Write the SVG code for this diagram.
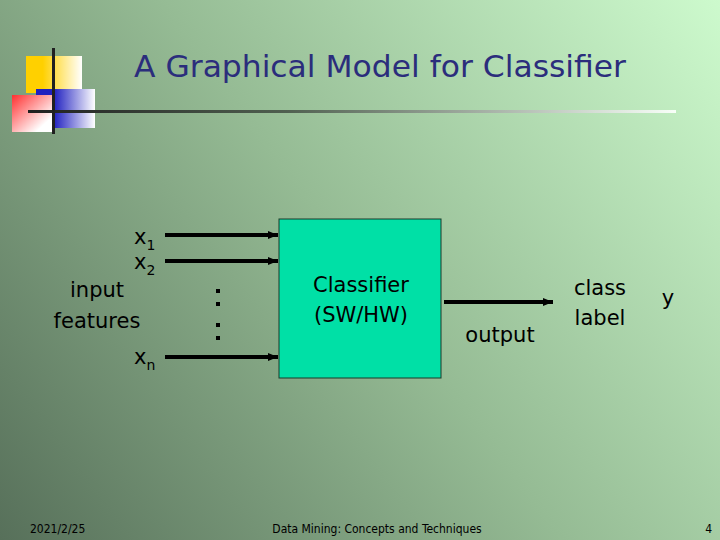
<svg xmlns="http://www.w3.org/2000/svg" width="720" height="540" viewBox="0 0 720 540">
<defs>
<linearGradient id="bg" x1="0" y1="540" x2="720" y2="0" gradientUnits="userSpaceOnUse">
<stop offset="0" stop-color="#57705a"/>
<stop offset="0.5" stop-color="#95bb94"/>
<stop offset="1" stop-color="#cdfacd"/>
</linearGradient>
<linearGradient id="yel" x1="0" y1="0" x2="1" y2="0"><stop offset="0.3" stop-color="#ffd000"/><stop offset="1" stop-color="#ffffff"/></linearGradient>
<linearGradient id="blu" x1="0" y1="0" x2="1" y2="0"><stop offset="0.3" stop-color="#2020c0"/><stop offset="1" stop-color="#ffffff"/></linearGradient>
<linearGradient id="red" x1="0" y1="0" x2="1" y2="1"><stop offset="0" stop-color="#ff3030"/><stop offset="0.8" stop-color="#ffffff"/></linearGradient>
<linearGradient id="hl" x1="0" y1="0" x2="1" y2="0"><stop offset="0" stop-color="#202020"/><stop offset="0.4" stop-color="#506050"/><stop offset="1" stop-color="#f8fff8"/></linearGradient>
<marker id="ah" markerWidth="10" markerHeight="8" refX="10" refY="4" orient="auto" markerUnits="userSpaceOnUse"><path d="M0,0 L10,4 L0,8 z" fill="#000"/></marker>
<style>
.t{font-family:"DejaVu Sans","Liberation Sans",sans-serif;fill:#000;}
.lab{font-size:21px;}
.sub{font-size:14px;}
.ft{font-family:"DejaVu Sans Condensed","DejaVu Sans",sans-serif;font-size:12px;fill:#000;}
.arr{stroke:#000;stroke-width:4;fill:none;marker-end:url(#ah);}
</style>
</defs>
<rect width="720" height="540" fill="url(#bg)"/>
<g id="decor">
<rect x="26" y="56" width="56" height="37" fill="url(#yel)"/>
<rect x="36" y="89" width="59" height="39" fill="url(#blu)"/>
<rect x="12" y="95" width="40" height="37" fill="url(#red)"/>
<rect x="28" y="110" width="648" height="3" fill="url(#hl)"/>
<rect x="52" y="48" width="3" height="86" fill="#202020"/>
</g>
<text class="t" x="380" y="77" font-size="31" text-anchor="middle" fill="#2b2d7c" style="fill:#2b2d7c" textLength="492" lengthAdjust="spacingAndGlyphs">A Graphical Model for Classifier</text>
<g id="connectors">
<line class="arr" x1="165" y1="235" x2="278" y2="235"/>
<line class="arr" x1="165" y1="261" x2="278" y2="261"/>
<line class="arr" x1="165" y1="357" x2="278" y2="357"/>
<line class="arr" x1="444" y1="302" x2="553" y2="302"/>
</g>
<g id="dots" fill="#000">
<rect x="216" y="289" width="4" height="4"/>
<rect x="216" y="302" width="4" height="4"/>
<rect x="216" y="323" width="4" height="4"/>
<rect x="216" y="336" width="4" height="4"/>
</g>
<g id="classifier">
<rect x="279" y="219" width="162" height="159" fill="#00e0a6" stroke="#1a3a2a" stroke-width="1"/>
<text class="t lab" x="361" y="292" text-anchor="middle">Classifier</text>
<text class="t lab" x="361" y="322" text-anchor="middle">(SW/HW)</text>
</g>
<g id="inputs">
<text class="t lab" x="134" y="244">x<tspan class="sub" dy="6">1</tspan></text>
<text class="t lab" x="134" y="269">x<tspan class="sub" dy="6">2</tspan></text>
<text class="t lab" x="134" y="364">x<tspan class="sub" dy="6">n</tspan></text>
<text class="t lab" x="97" y="297" text-anchor="middle">input</text>
<text class="t lab" x="97" y="328" text-anchor="middle">features</text>
</g>
<g id="output">
<text class="t lab" x="500" y="342" text-anchor="middle">output</text>
<text class="t lab" x="600" y="295" text-anchor="middle">class</text>
<text class="t lab" x="600" y="325" text-anchor="middle">label</text>
<text class="t lab" x="668" y="305" text-anchor="middle">y</text>
</g>
<g id="footer">
<text class="ft" x="30" y="533">2021/2/25</text>
<text class="ft" x="377" y="533" text-anchor="middle">Data Mining: Concepts and Techniques</text>
<text class="ft" x="712" y="533" text-anchor="end">4</text>
</g>
</svg>
